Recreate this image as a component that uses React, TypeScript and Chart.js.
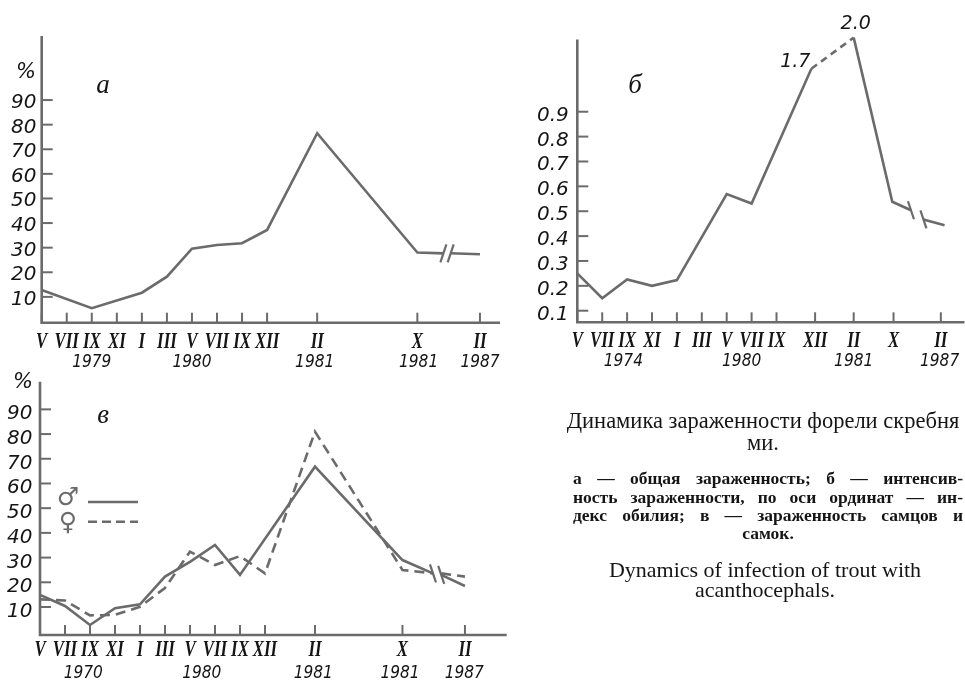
import React, { useEffect, useRef } from "react";
import { Chart, registerables } from "chart.js";
Chart.register(...registerables);

// ---------- DATA ----------
// Panel а — total infection, %
const monthsA = ["V", "VII", "IX", "XI", "I", "III", "V", "VII", "IX", "XII", "II", "X", "II"];
const tickPosA = [0, 1, 2, 3, 4, 5, 6, 7, 8, 9, 11, 15, 17.5];
const yearsA = ["1979", "1980", "1981", "1981", "1987"];
const yearPosA = [2, 6, 10.9, 15.05, 17.5];
const yTicksA = [10, 20, 30, 40, 50, 60, 70, 80, 90];
const xA = [0, 2, 4, 5, 6, 7, 8, 9, 11, 15, 16.04, 16.2, 16.33, 17.5];
const totalA = [12.8, 5.4, 11.7, 18.2, 29.6, 31.1, 31.8, 37.2, 76.5, 28, 27.7, null, 27.7, 27.3];

// Panel б — abundance index
const monthsB = ["V", "VII", "IX", "XI", "I", "III", "V", "VII", "IX", "XII", "II", "X", "II"];
const tickPosB = [0, 1, 2, 3, 4, 5, 6, 7, 8, 9.55, 11.1, 12.7, 14.6];
const yearsB = ["1974", "1980", "1981", "1987"];
const yearPosB = [1.85, 6.6, 11.1, 14.55];
const yTicksB = [0.1, 0.2, 0.3, 0.4, 0.5, 0.6, 0.7, 0.8, 0.9];
const xB = [0, 1, 2, 3, 4, 6, 7, 9.4, 11.1, 12.65, 13.4, 13.65, 13.9, 14.75];
const abundanceB = [0.25, 0.15, 0.226, 0.2, 0.223, 0.569, 0.531, 1.073, 1.198, 0.538, 0.504, null, 0.467, 0.444];
const peakIndexB = [7, 8];
const peakLabelsB = ["1.7", "2.0"];

// Panel в — males / females, %
const monthsC = ["V", "VII", "IX", "XI", "I", "III", "V", "VII", "IX", "XII", "II", "X", "II"];
const tickPosC = [0, 1, 2, 3, 4, 5, 6, 7, 8, 9, 11, 14.5, 17];
const yearsC = ["1970", "1980", "1981", "1981", "1987"];
const yearPosC = [1.73, 6.47, 10.93, 14.4, 16.97];
const yTicksC = [10, 20, 30, 40, 50, 60, 70, 80, 90];
const xMale = [0, 1, 2, 3, 4, 5, 6, 7, 8, 11, 14.5, 15.72, 15.88, 16.05, 17];
const male = [14.9, 10.4, 2.7, 9.5, 11.1, 22.3, 28.3, 35.1, 23, 66.8, 29, 23.6, null, 23, 18.5];
const xFemale = [0, 1, 2, 3, 4, 5, 6, 7, 8, 9, 11, 14.5, 15.72, 15.88, 16.05, 17];
const female = [13.1, 12.6, 6.6, 6.8, 10.1, 17.7, 32.4, 27, 30.6, 23.6, 81, 25, 23.6, null, 23.6, 22.3];

// ---------- STYLE ----------
const GREY = "#6b6b6b";
const INK = "#151515";
const NUM_FONT = "italic 19px 'DejaVu Sans'";
const YEAR_FONT = "italic 18px 'DejaVu Sans Condensed'";
const ROMAN_FONT = "italic bold 24px 'Liberation Serif'";
const LETTER_FONT = "italic 27px 'Liberation Serif'";

function txt(ctx: CanvasRenderingContext2D, s: string, x: number, y: number, font: string, align: CanvasTextAlign = "center", sx = 1, color = INK) {
  ctx.save();
  ctx.font = font;
  ctx.fillStyle = color;
  ctx.textAlign = align;
  ctx.textBaseline = "middle";
  ctx.translate(x, y);
  ctx.scale(sx, 1);
  ctx.fillText(s, 0, 0);
  ctx.restore();
}

function seg(ctx: CanvasRenderingContext2D, x1: number, y1: number, x2: number, y2: number) {
  ctx.beginPath();
  ctx.moveTo(x1, y1);
  ctx.lineTo(x2, y2);
  ctx.stroke();
}

type PanelCfg = {
  id: string;
  xs: number[][];
  ys: (number | null)[][];
  dashed: boolean[];
  xMax: number;
  yMin: number;
  yMax: number;
  padding: { left: number; right: number; top: number; bottom: number };
  months: string[];
  tickPos: number[];
  years: string[];
  yearPos: number[];
  yTicks: number[];
  yFmt: (v: number) => string;
  yLabelX: number;
  yLabelDy: number;
  monthDy: number;
  yearDy: number;
  letter: string;
  letterXY: [number, number];
  percentXY?: [number, number];
  slash: 1 | -1;
  dashSegment?: number;
  extra?: (chart: any) => void;
};

function makePlugin(cfg: PanelCfg) {
  return {
    id: "panel_" + cfg.id,
    afterDraw(chart: any) {
      const ctx: CanvasRenderingContext2D = chart.ctx;
      const xs = chart.scales.x;
      const ys = chart.scales.y;
      const ca = chart.chartArea;
      ctx.save();
      ctx.strokeStyle = GREY;
      ctx.lineCap = "butt";
      ctx.lineWidth = 2.6;
      ctx.beginPath();
      ctx.moveTo(ca.left, ca.top);
      ctx.lineTo(ca.left, ca.bottom);
      ctx.lineTo(ca.right, ca.bottom);
      ctx.stroke();
      ctx.lineWidth = 2;
      cfg.tickPos.forEach((v) => {
        const px = xs.getPixelForValue(v);
        seg(ctx, px, ca.bottom, px, ca.bottom - 10);
      });
      cfg.yTicks.forEach((v) => {
        const py = ys.getPixelForValue(v);
        seg(ctx, ca.left, py, ca.left + 11, py);
      });
      // break slashes at the gap of the first dataset
      const ds0 = cfg.ys[0];
      const gi = ds0.indexOf(null);
      if (gi > 0) {
        ctx.lineWidth = 2.2;
        [gi - 1, gi + 1].forEach((k) => {
          const px = xs.getPixelForValue(cfg.xs[0][k]);
          const py = ys.getPixelForValue(ds0[k] as number);
          seg(ctx, px - 3 * cfg.slash, py + 9, px + 3 * cfg.slash, py - 9);
        });
      }
      ctx.restore();
      // labels
      cfg.months.forEach((m, i) => {
        txt(ctx, m, xs.getPixelForValue(cfg.tickPos[i]), ca.bottom + cfg.monthDy, ROMAN_FONT, "center", 0.7);
      });
      cfg.years.forEach((yr, i) => {
        txt(ctx, yr, xs.getPixelForValue(cfg.yearPos[i]), ca.bottom + cfg.yearDy, YEAR_FONT, "center", 0.95);
      });
      cfg.yTicks.forEach((v) => {
        txt(ctx, cfg.yFmt(v), cfg.yLabelX, ys.getPixelForValue(v) + cfg.yLabelDy, NUM_FONT, "left", 1.05);
      });
      txt(ctx, cfg.letter, cfg.letterXY[0], cfg.letterXY[1], LETTER_FONT, "center");
      if (cfg.percentXY) txt(ctx, "%", cfg.percentXY[0], cfg.percentXY[1], "italic 21px 'DejaVu Sans'", "center");
      if (cfg.extra) cfg.extra(chart);
    },
  };
}

function Panel({ cfg }: { cfg: PanelCfg }) {
  const ref = useRef<HTMLCanvasElement | null>(null);
  useEffect(() => {
    if (!ref.current) return;
    const datasets = cfg.ys.map((vals, d) => ({
      data: vals.map((v, i) => ({ x: cfg.xs[d][i], y: v })),
      borderColor: GREY,
      borderWidth: 2.6,
      borderDash: cfg.dashed[d] ? [10, 6] : [],
      pointRadius: 0,
      tension: 0,
      spanGaps: false,
      clip: false as any,
      fill: false,
      segment:
        cfg.dashSegment !== undefined
          ? { borderDash: (c: any) => (c.p0DataIndex === cfg.dashSegment ? [7, 5] : undefined) }
          : undefined,
    }));
    const chart = new Chart(ref.current, {
      type: "line",
      data: { datasets: datasets as any },
      options: {
        animation: false,
        responsive: false,
        devicePixelRatio: 1,
        events: [],
        layout: { padding: cfg.padding },
        plugins: { legend: { display: false }, tooltip: { enabled: false } },
        scales: {
          x: { type: "linear", display: false, min: 0, max: cfg.xMax },
          y: { type: "linear", display: false, min: cfg.yMin, max: cfg.yMax },
        },
      },
      plugins: [makePlugin(cfg)],
    });
    return () => chart.destroy();
  }, [cfg]);
  return <canvas ref={ref} width={965} height={684} style={{ position: "absolute", left: 0, top: 0 }} />;
}

const cfgA: PanelCfg = {
  id: "a",
  xs: [xA],
  ys: [totalA],
  dashed: [false],
  xMax: 18.3,
  yMin: -0.5,
  yMax: 116,
  padding: { left: 41.7, right: 465, top: 36.1, bottom: 361.3 },
  months: monthsA,
  tickPos: tickPosA,
  years: yearsA,
  yearPos: yearPosA,
  yTicks: yTicksA,
  yFmt: (v) => String(v),
  yLabelX: 11,
  yLabelDy: 3,
  monthDy: 19,
  yearDy: 40,
  letter: "a",
  letterXY: [103, 86],
  percentXY: [26, 73],
  slash: 1,
};

const cfgB: PanelCfg = {
  id: "b",
  xs: [xB],
  ys: [abundanceB],
  dashed: [false],
  xMax: 15.55,
  yMin: 0.0534,
  yMax: 1.19,
  padding: { left: 577.3, right: 0.5, top: 39.6, bottom: 361.7 },
  months: monthsB,
  tickPos: tickPosB,
  years: yearsB,
  yearPos: yearPosB,
  yTicks: yTicksB,
  yFmt: (v) => v.toFixed(1),
  yLabelX: 537,
  yLabelDy: 4,
  monthDy: 18,
  yearDy: 39,
  letter: "б",
  letterXY: [635, 86],
  slash: -1,
  dashSegment: peakIndexB[0],
  extra: (chart) => {
    const xs = chart.scales.x;
    const ys = chart.scales.y;
    const p0 = peakIndexB[0];
    const p1 = peakIndexB[1];
    txt(chart.ctx, peakLabelsB[0], xs.getPixelForValue(xB[p0]) - 1, ys.getPixelForValue(abundanceB[p0] as number) - 7, NUM_FONT, "right");
    txt(chart.ctx, peakLabelsB[1], xs.getPixelForValue(xB[p1]) + 2, ys.getPixelForValue(abundanceB[p1] as number) - 14, NUM_FONT, "center");
  },
};

const cfgC: PanelCfg = {
  id: "c",
  xs: [xMale, xFemale],
  ys: [male, female],
  dashed: [false, true],
  xMax: 18.67,
  yMin: -1.34,
  yMax: 101.2,
  padding: { left: 40, right: 458.3, top: 381.7, bottom: 49 },
  months: monthsC,
  tickPos: tickPosC,
  years: yearsC,
  yearPos: yearPosC,
  yTicks: yTicksC,
  yFmt: (v) => String(v),
  yLabelX: 7,
  yLabelDy: 5,
  monthDy: 15,
  yearDy: 38,
  letter: "в",
  letterXY: [103, 416],
  percentXY: [23, 383],
  slash: -1,
  extra: (chart) => {
    const ctx: CanvasRenderingContext2D = chart.ctx;
    const ca = chart.chartArea;
    const ys = chart.scales.y;
    const y1 = ys.getPixelForValue(52.5);
    const y2 = ys.getPixelForValue(44.5);
    txt(ctx, "♂", ca.left + 28, y1 - 4, "25px 'DejaVu Sans'", "center", 1, GREY);
    txt(ctx, "♀", ca.left + 28, y2 + 2, "25px 'DejaVu Sans'", "center", 1, GREY);
    ctx.save();
    ctx.strokeStyle = GREY;
    ctx.lineWidth = 2.4;
    seg(ctx, ca.left + 48, y1, ca.left + 98, y1);
    ctx.setLineDash([9, 5]);
    seg(ctx, ca.left + 48, y2, ca.left + 98, y2);
    ctx.restore();
  },
};

const serif = "'Liberation Serif', 'Times New Roman', serif";

function Caption() {
  const line = (top: number, text: string, style: React.CSSProperties) => (
    <div style={{ position: "absolute", top, ...style }}>{text}</div>
  );
  const titleStyle: React.CSSProperties = {
    left: 553,
    width: 420,
    textAlign: "center",
    fontFamily: serif,
    fontSize: 22.5,
    lineHeight: "24px",
    color: INK,
    whiteSpace: "nowrap",
  };
  const engStyle: React.CSSProperties = { ...titleStyle, left: 555, fontSize: 22, lineHeight: "22px" };
  const parStyle: React.CSSProperties = {
    left: 573,
    width: 390,
    fontFamily: serif,
    fontSize: 17.5,
    fontWeight: "bold",
    lineHeight: "18px",
    color: INK,
    textAlign: "justify",
    textAlignLast: "justify" as any,
    whiteSpace: "nowrap",
  };
  return (
    <div>
      {line(409, "Динамика зараженности форели скребня", titleStyle)}
      {line(431, "ми.", titleStyle)}
      {line(469, "а — общая зараженность; б — интенсив-", parStyle)}
      {line(488, "ность зараженности, по оси ординат — ин-", parStyle)}
      {line(506, "декс обилия; в — зараженность самцов и", parStyle)}
      {line(524, "самок.", { ...parStyle, textAlign: "center", textAlignLast: "center" as any })}
      {line(559, "Dynamics of infection of trout with", engStyle)}
      {line(579, "acanthocephals.", engStyle)}
    </div>
  );
}

export default function App() {
  return (
    <div style={{ position: "fixed", left: 0, top: 0, width: 965, height: 684, background: "#fff", overflow: "hidden" }}>
      <Panel cfg={cfgA} />
      <Panel cfg={cfgB} />
      <Panel cfg={cfgC} />
      <Caption />
    </div>
  );
}
